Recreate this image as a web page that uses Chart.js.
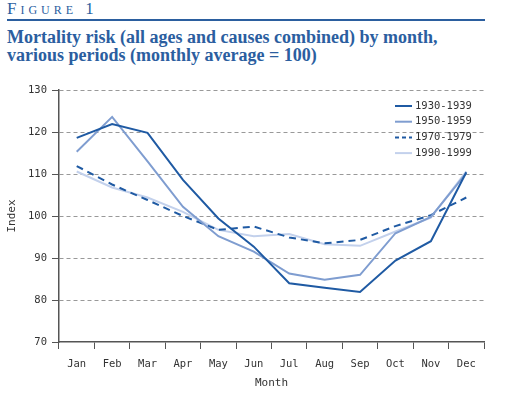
<!DOCTYPE html>
<html>
<head>
<meta charset="utf-8">
<script src="https://cdn.jsdelivr.net/npm/chart.js@4/dist/chart.umd.min.js"></script>
<style>
  body { margin: 0; background: #fff; }
  #wrap { position: relative; width: 505px; height: 393px; overflow: hidden; }
  #fig { position: absolute; left: 7px; top: 0px; font-family: "Liberation Serif", serif; color: #2b5e9f;
         font-size: 17px; font-variant: small-caps; letter-spacing: 4px; line-height: 18px; }
  #rule { position: absolute; left: 7px; top: 19px; width: 478px; height: 2px; background: #2b5e9f; }
  #title { position: absolute; left: 7px; top: 28px; font-family: "Liberation Serif", serif; font-weight: bold;
           color: #2b5e9f; font-size: 18px; line-height: 18px; }
  canvas { position: absolute; left: 0; top: 0; }
</style>
</head>
<body>
<div id="wrap">
  <div id="fig">Figure 1</div>
  <div id="rule"></div>
  <div id="title">Mortality risk (all ages and causes combined) by month,<br>various periods (monthly average = 100)</div>
  <canvas id="chart" width="505" height="393"></canvas>
</div>
<script>
const months = ['Jan', 'Feb', 'Mar', 'Apr', 'May', 'Jun', 'Jul', 'Aug', 'Sep', 'Oct', 'Nov', 'Dec'];
const series1930 = [118.6, 121.9, 119.8, 108.6, 99.4, 92.7, 84.0, 82.9, 81.9, 89.4, 94.0, 110.4];
const series1950 = [115.3, 123.6, 113.0, 102.2, 95.2, 91.5, 86.3, 84.8, 86.0, 95.9, 99.8, 110.2];
const series1970 = [111.9, 107.5, 103.8, 100.0, 96.7, 97.5, 94.9, 93.5, 94.3, 97.6, 100.2, 104.4];
const series1990 = [110.6, 106.8, 104.4, 101.0, 96.7, 95.2, 95.7, 93.3, 92.9, 96.3, 99.6, 110.6];
const yTicks = [70, 80, 90, 100, 110, 120, 130];

const tickFont = { family: 'DejaVu Sans Mono', size: 10.5 };
const inkGray = '#555';

// legend drawn inside the plot area, top right
const insideLegend = {
  id: 'insideLegend',
  afterDraw(chart) {
    const ctx = chart.ctx;
    ctx.save();
    ctx.font = '10.5px "DejaVu Sans Mono"';
    ctx.textBaseline = 'middle';
    chart.data.datasets.forEach((ds, i) => {
      const y = 106 + i * 15.7;
      ctx.strokeStyle = ds.borderColor;
      ctx.lineWidth = 2;
      ctx.setLineDash(ds.borderDash ? [4, 3] : []);
      ctx.beginPath();
      ctx.moveTo(395, y);
      ctx.lineTo(412, y);
      ctx.stroke();
      ctx.setLineDash([]);
      ctx.fillStyle = '#333';
      ctx.fillText(ds.label, 415, y);
    });
    ctx.restore();
  }
};

const ctx = document.getElementById('chart').getContext('2d');
const chart = new Chart(ctx, {
  type: 'line',
  data: {
    labels: months,
    datasets: [
      { label: '1930-1939', data: series1930, borderColor: '#1f5aa3', borderWidth: 2 },
      { label: '1950-1959', data: series1950, borderColor: '#7f9dd0', borderWidth: 2 },
      { label: '1970-1979', data: series1970, borderColor: '#1f5aa3', borderWidth: 2, borderDash: [7, 5] },
      { label: '1990-1999', data: series1990, borderColor: '#c3d1ec', borderWidth: 2 }
    ]
  },
  options: {
    responsive: false,
    animation: false,
    elements: { point: { radius: 0 }, line: { tension: 0 } },
    layout: { padding: { top: 90, right: 21, left: 0, bottom: 0 } },
    plugins: {
      legend: { display: false },
      tooltip: { enabled: false }
    },
    scales: {
      x: {
        offset: true,
        grid: { drawOnChartArea: false, drawTicks: true, tickLength: 7, color: inkGray, tickColor: inkGray, offset: true },
        border: { color: inkGray, width: 1.5 },
        ticks: { font: tickFont, color: '#333', padding: 9, maxRotation: 0, autoSkip: false },
        title: { display: true, text: 'Month', font: { family: 'DejaVu Sans Mono', size: 11 }, color: '#333', padding: { top: 6, bottom: 3 } },
        afterFit(scale) { scale.height = 51; }
      },
      y: {
        min: 70,
        max: 130,
        afterBuildTicks(scale) { scale.ticks = yTicks.map(v => ({ value: v })); },
        grid: {
          color: c => (c.tick && c.tick.value === 70 ? 'rgba(0,0,0,0)' : '#999'),
          tickColor: inkGray, tickLength: 7, tickBorderDash: []
        },
        border: { color: inkGray, width: 1.5, dash: [4, 3] },
        ticks: { font: tickFont, color: '#333', padding: 5 },
        title: { display: true, text: 'Index', font: { family: 'DejaVu Sans Mono', size: 11 }, color: '#333', padding: { top: 6, bottom: 0 } },
        afterFit(scale) { scale.width = 59; }
      }
    }
  },
  plugins: [insideLegend]
});
</script>
</body>
</html>
